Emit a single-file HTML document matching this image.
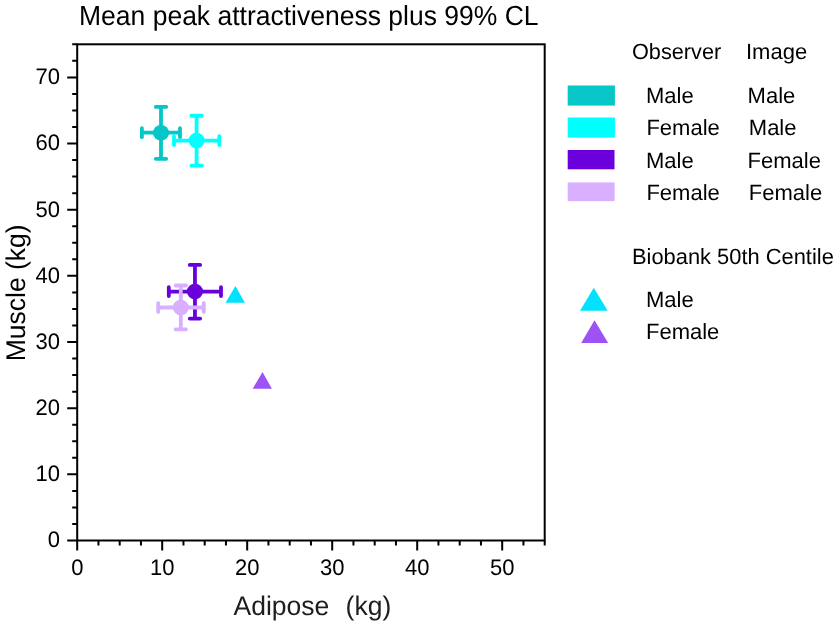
<!DOCTYPE html>
<html><head><meta charset="utf-8"><title>Mean peak attractiveness plus 99% CL</title><style>
html,body{margin:0;padding:0;background:#fff;width:839px;height:627px;overflow:hidden;}
svg{display:block;will-change:transform;}
text{font-family:"Liberation Sans",sans-serif;text-rendering:geometricPrecision;}
</style></head><body>
<svg width="839" height="627" viewBox="0 0 839 627">
<rect width="839" height="627" fill="#fff"/>
<rect x="77.20" y="44.30" width="467.50" height="496.20" fill="none" stroke="#000" stroke-width="2"/>
<path d="M67.20 540.50H77.20M72.20 523.96H77.20M72.20 507.42H77.20M72.20 490.88H77.20M67.20 474.34H77.20M72.20 457.80H77.20M72.20 441.26H77.20M72.20 424.72H77.20M67.20 408.18H77.20M72.20 391.64H77.20M72.20 375.10H77.20M72.20 358.56H77.20M67.20 342.02H77.20M72.20 325.48H77.20M72.20 308.94H77.20M72.20 292.40H77.20M67.20 275.86H77.20M72.20 259.32H77.20M72.20 242.78H77.20M72.20 226.24H77.20M67.20 209.70H77.20M72.20 193.16H77.20M72.20 176.62H77.20M72.20 160.08H77.20M67.20 143.54H77.20M72.20 127.00H77.20M72.20 110.46H77.20M72.20 93.92H77.20M67.20 77.38H77.20M72.20 60.84H77.20M72.20 44.30H77.20M77.20 540.50V550.50M98.45 540.50V545.50M119.70 540.50V545.50M140.95 540.50V545.50M162.20 540.50V550.50M183.45 540.50V545.50M204.70 540.50V545.50M225.95 540.50V545.50M247.20 540.50V550.50M268.45 540.50V545.50M289.70 540.50V545.50M310.95 540.50V545.50M332.20 540.50V550.50M353.45 540.50V545.50M374.70 540.50V545.50M395.95 540.50V545.50M417.20 540.50V550.50M438.45 540.50V545.50M459.70 540.50V545.50M480.95 540.50V545.50M502.20 540.50V550.50M523.45 540.50V545.50M544.70 540.50V545.50" stroke="#000" stroke-width="2" fill="none"/>
<text transform="translate(60.10,547.40) scale(1.0,1.02)" font-size="22" text-anchor="end">0</text>
<text transform="translate(60.10,481.24) scale(1.0,1.02)" font-size="22" text-anchor="end">10</text>
<text transform="translate(60.10,415.08) scale(1.0,1.02)" font-size="22" text-anchor="end">20</text>
<text transform="translate(60.10,348.92) scale(1.0,1.02)" font-size="22" text-anchor="end">30</text>
<text transform="translate(60.10,282.76) scale(1.0,1.02)" font-size="22" text-anchor="end">40</text>
<text transform="translate(60.10,216.60) scale(1.0,1.02)" font-size="22" text-anchor="end">50</text>
<text transform="translate(60.10,150.44) scale(1.0,1.02)" font-size="22" text-anchor="end">60</text>
<text transform="translate(60.10,84.28) scale(1.0,1.02)" font-size="22" text-anchor="end">70</text>
<text transform="translate(77.25,574.80) scale(1.0,1.02)" font-size="22" text-anchor="middle">0</text>
<text transform="translate(162.25,574.80) scale(1.0,1.02)" font-size="22" text-anchor="middle">10</text>
<text transform="translate(247.25,574.80) scale(1.0,1.02)" font-size="22" text-anchor="middle">20</text>
<text transform="translate(332.25,574.80) scale(1.0,1.02)" font-size="22" text-anchor="middle">30</text>
<text transform="translate(417.25,574.80) scale(1.0,1.02)" font-size="22" text-anchor="middle">40</text>
<text transform="translate(502.25,574.80) scale(1.0,1.02)" font-size="22" text-anchor="middle">50</text>
<text transform="translate(24.90,361.30) rotate(-90) scale(1.0,1.02)" font-size="26.5">Muscle (kg)</text>
<text transform="translate(233.50,614.70) scale(1.0,1.02)" font-size="26.5" word-spacing="0.8" fill="#1e1e1e">Adipose&#160; (kg)</text>
<text transform="translate(79.00,25.00) scale(1.0,1.04)" font-size="26.5">Mean peak attractiveness plus 99% CL</text>
<text transform="translate(632.00,58.80) scale(0.986,1.0)" font-size="22">Observer</text>
<text transform="translate(746.00,58.80)" font-size="22">Image</text>
<text transform="translate(646.00,102.50)" font-size="22">Male</text>
<text transform="translate(747.60,102.50)" font-size="22">Male</text>
<text transform="translate(646.40,135.00)" font-size="22">Female</text>
<text transform="translate(748.80,135.00)" font-size="22">Male</text>
<text transform="translate(646.00,168.00)" font-size="22">Male</text>
<text transform="translate(747.60,168.00)" font-size="22">Female</text>
<text transform="translate(646.40,200.30)" font-size="22">Female</text>
<text transform="translate(748.80,200.30)" font-size="22">Female</text>
<text transform="translate(632.00,263.80) scale(0.994,1.0)" font-size="22">Biobank 50th Centile</text>
<text transform="translate(646.00,307.30)" font-size="22">Male</text>
<text transform="translate(646.00,339.40)" font-size="22">Female</text>
<path d="M161.00 106.90V158.80M141.90 132.70H180.00M155.80 106.90H166.20M155.80 158.80H166.20M141.90 128.25V137.15M180.00 128.25V137.15" stroke="#06C6C8" stroke-width="3.8" stroke-linecap="round" fill="none"/><ellipse cx="161.00" cy="132.70" rx="8.05" ry="7.8" fill="#06C6C8"/>
<path d="M196.60 115.75V165.60M174.00 140.60H219.30M191.40 115.75H201.80M191.40 165.60H201.80M174.00 136.15V145.05M219.30 136.15V145.05" stroke="#00FFFF" stroke-width="3.8" stroke-linecap="round" fill="none"/><ellipse cx="196.60" cy="140.60" rx="8.05" ry="7.8" fill="#00FFFF"/>
<path d="M194.95 264.90V318.60M168.80 291.60H221.00M189.75 264.90H200.15M189.75 318.60H200.15M168.80 287.15V296.05M221.00 287.15V296.05" stroke="#6A00DA" stroke-width="3.8" stroke-linecap="round" fill="none"/><ellipse cx="194.95" cy="291.60" rx="8.05" ry="7.8" fill="#6A00DA"/>
<path d="M180.80 285.50V329.30M158.20 307.50H203.80M175.60 285.50H186.00M175.60 329.30H186.00M158.20 303.05V311.95M203.80 303.05V311.95" stroke="#D9B0FF" stroke-width="3.8" stroke-linecap="round" fill="none"/><ellipse cx="180.80" cy="307.50" rx="8.05" ry="7.8" fill="#D9B0FF"/>
<path d="M235.40 286.00L244.90 302.70L225.60 302.70Z" fill="#02E2FF"/>
<path d="M262.50 371.90L271.90 388.70L252.70 388.70Z" fill="#9F52F3"/>
<rect x="567.7" y="85.5" width="47.2" height="20.1" fill="#06C6C8"/>
<rect x="567.7" y="117.5" width="47.2" height="20.1" fill="#00FFFF"/>
<rect x="567.7" y="150.0" width="46.8" height="19.3" fill="#6A00DC"/>
<rect x="567.7" y="182.4" width="46.9" height="18.8" fill="#D9B0FF"/>
<path d="M593.80 287.80L607.70 310.70L580.00 310.70Z" fill="#02E2FF"/>
<path d="M594.50 320.20L608.20 343.10L581.20 343.10Z" fill="#9F52F3"/>
</svg>
</body></html>
